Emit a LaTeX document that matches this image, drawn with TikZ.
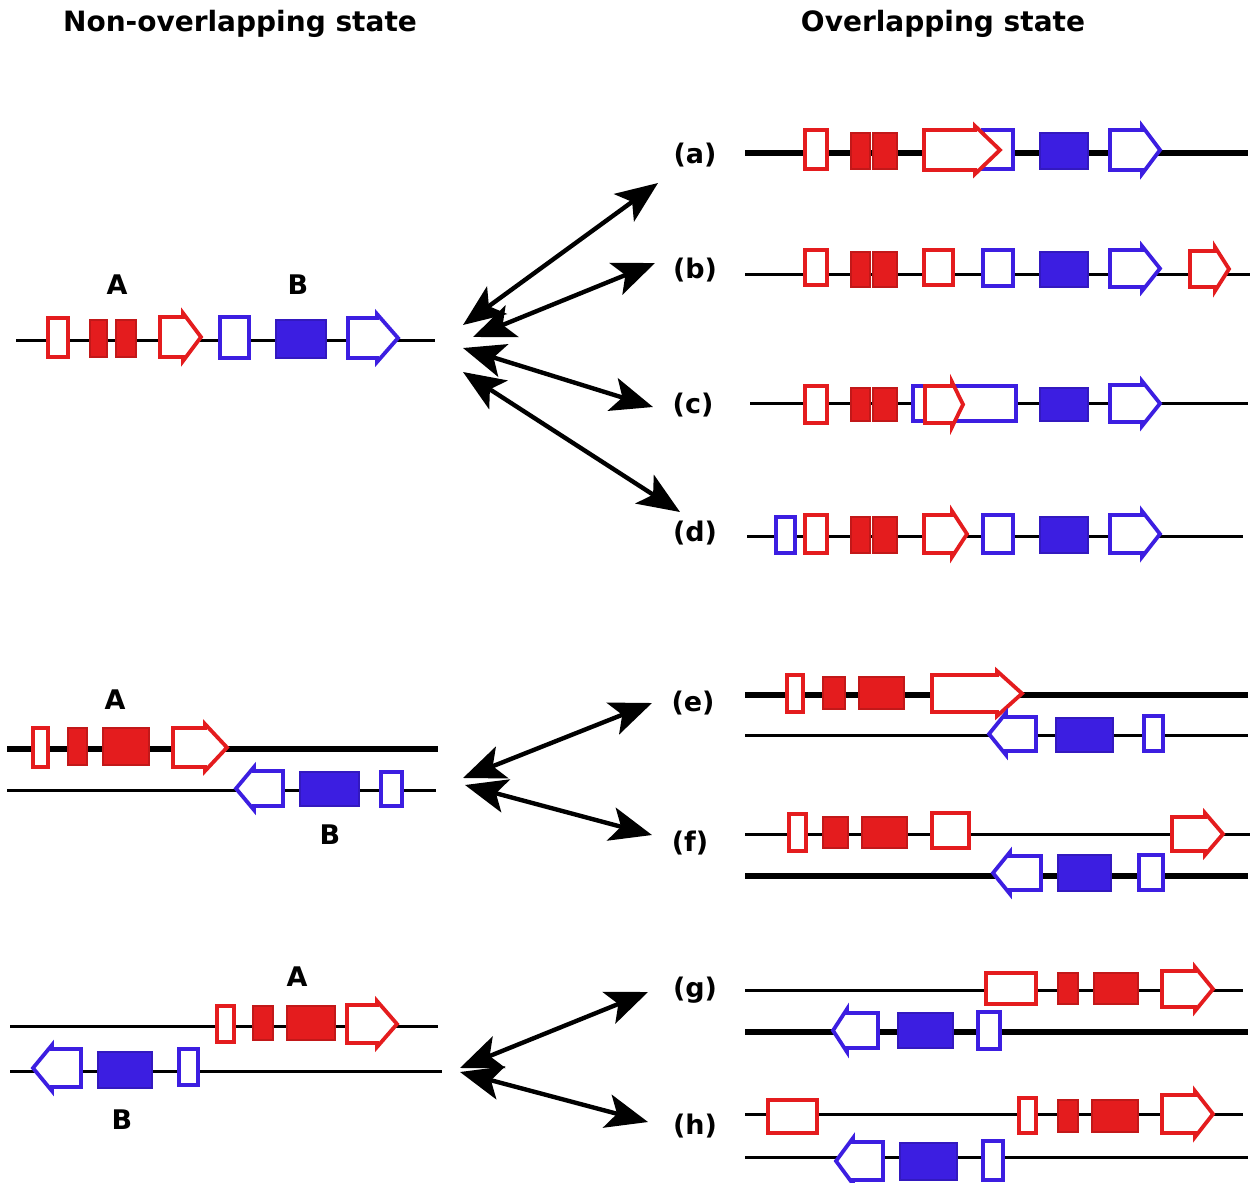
\documentclass[tikz,border=0pt]{standalone}
\usepackage{fontspec}
\setmainfont{DejaVu Sans}
\usetikzlibrary{arrows.meta}
\definecolor{gred}{RGB}{228,28,30}
\definecolor{gblue}{RGB}{60,30,225}
\newcommand\obx[5]{\filldraw[fill=white,draw=#1,line width=1.9pt] ({#2},{#4}) rectangle ({#3},{#5});}
\newcommand\fbx[5]{\filldraw[fill=#1,draw=#1!85!black,line width=0.6pt] ({#2},{#4}) rectangle ({#3},{#5});}
\newcommand\arR[6]{\filldraw[fill=white,draw=#1,line width=1.9pt,line join=miter] ({#2},{#5}) -- ({#3},{#5}) -- ({#3},{#5-4}) -- ({#4},{(#5+#6)/2}) -- ({#3},{#6+4}) -- ({#3},{#6}) -- ({#2},{#6}) -- cycle;}
\newcommand\arL[6]{\filldraw[fill=white,draw=#1,line width=1.9pt,line join=miter] ({#4},{#5}) -- ({#3},{#5}) -- ({#3},{#5-4}) -- ({#2},{(#5+#6)/2}) -- ({#3},{#6+4}) -- ({#3},{#6}) -- ({#4},{#6}) -- cycle;}
\begin{document}
\begin{tikzpicture}[x=0.5pt,y=-0.5pt,
  thinline/.style={line width=1.5pt,black},
  thickline/.style={line width=3pt,black},
  dbl/.style={line width=2.2pt,{Stealth[length=21pt,width=17pt,inset=5pt]}-{Stealth[length=21pt,width=17pt,inset=5pt]}},
  title/.style={font=\bfseries\fontsize{14}{16}\selectfont},
  lab/.style={font=\bfseries\fontsize{13.5}{15}\selectfont}]
\useasboundingbox (0,0) rectangle (1253,1183);
% titles
\node[title] (t1) at (240,24) {Non-overlapping state};
\node[title] (t2) at (943,24) {Overlapping state};
% ---------- top left
\draw[thinline] (16,340) -- (435,340);
\obx{gred}{48}{68}{318}{357}
\fbx{gred}{90}{107}{320}{357}
\fbx{gred}{116}{136}{320}{357}
\arR{gred}{160}{183}{201}{317}{357}
\obx{gblue}{220}{249}{317}{358}
\fbx{gblue}{276}{326}{320}{358}
\arR{gblue}{348}{377}{398}{318}{358}
\node[lab] (A1) at (117,285) {A};
\node[lab] (B1) at (298,285) {B};
% row a
\draw[thickline] (745,153) -- (1248,153);
\obx{gred}{805}{827}{130}{169}
\fbx{gred}{851}{870}{133}{169}
\fbx{gred}{873}{897}{133}{169}
\obx{gblue}{983}{1013}{130}{169}
\arR{gred}{924}{975}{1000}{130}{170}
\fbx{gblue}{1040}{1088}{133}{169}
\arR{gblue}{1110}{1142}{1160}{130}{170}
% row b
\draw[thinline] (745,274) -- (1250,274);
\obx{gred}{805}{827}{250}{285}
\fbx{gred}{851}{870}{252}{287}
\fbx{gred}{873}{897}{252}{287}
\obx{gred}{924}{953}{250}{285}
\obx{gblue}{983}{1013}{250}{286}
\fbx{gblue}{1040}{1088}{252}{287}
\arR{gblue}{1110}{1142}{1160}{250}{287}
\arR{gred}{1190}{1215}{1229}{251}{287}
% row c
\draw[thinline] (750,403) -- (1248,403);
\obx{gred}{805}{827}{386}{423}
\fbx{gred}{851}{870}{388}{421}
\fbx{gred}{873}{897}{388}{421}
\obx{gblue}{913}{1016}{386}{421}
\arR{gred}{925}{952}{963}{386}{423}
\fbx{gblue}{1040}{1088}{388}{421}
\arR{gblue}{1110}{1142}{1160}{385}{422}
% row d
\draw[thinline] (747,536) -- (1243,536);
\obx{gblue}{776}{795}{517}{553}
\obx{gred}{805}{827}{515}{553}
\fbx{gred}{851}{870}{517}{553}
\fbx{gred}{873}{897}{517}{553}
\arR{gred}{924}{952}{967}{515}{553}
\obx{gblue}{983}{1013}{515}{553}
\fbx{gblue}{1040}{1088}{517}{553}
\arR{gblue}{1110}{1142}{1160}{515}{553}
% labels a-d
\node[lab] (la) at (695,155) {(a)};
\node[lab] (lb) at (695,270) {(b)};
\node[lab] (lc) at (693,405) {(c)};
\node[lab] (ld) at (695,533) {(d)};
% arrows top
\coordinate (h1) at (463,325); \coordinate (ea) at (658,183);
\coordinate (h2) at (473,337); \coordinate (eb) at (655,263);
\coordinate (h3) at (463,348); \coordinate (ec) at (653,407);
\coordinate (h4) at (463,372); \coordinate (ed) at (680,512);
\draw[dbl] (h1) -- (ea);
\draw[dbl] (h2) -- (eb);
\draw[dbl] (h3) -- (ec);
\draw[dbl] (h4) -- (ed);
% ---------- middle left
\draw[thickline] (7,749) -- (438,749);
\obx{gred}{33}{48}{728}{767}
\fbx{gred}{68}{87}{728}{765}
\fbx{gred}{103}{149}{728}{765}
\arR{gred}{173}{205}{227}{728}{767}
\node[lab] (A2) at (115,700) {A};
\draw[thinline] (7,790) -- (436,790);
\arL{gblue}{236}{254}{283}{771}{806}
\fbx{gblue}{300}{359}{772}{806}
\obx{gblue}{381}{402}{772}{806}
\node[lab] (B2) at (330,835) {B};
% row e
\draw[thickline] (745,695) -- (1248,695);
\obx{gred}{787}{803}{675}{712}
\fbx{gred}{823}{845}{677}{709}
\fbx{gred}{859}{904}{677}{709}
\arR{gred}{932}{997}{1022}{675}{712}
\draw[thinline] (745,735) -- (1248,735);
\arL{gblue}{989}{1006}{1036}{717}{751}
\fbx{gblue}{1056}{1113}{718}{752}
\obx{gblue}{1144}{1163}{716}{751}
% row f
\draw[thinline] (745,834) -- (1250,834);
\obx{gred}{789}{806}{814}{851}
\fbx{gred}{823}{848}{817}{848}
\fbx{gred}{862}{907}{817}{848}
\obx{gred}{932}{969}{813}{848}
\arR{gred}{1172}{1205}{1223}{817}{851}
\draw[thickline] (745,876) -- (1248,876);
\arL{gblue}{993}{1010}{1041}{856}{890}
\fbx{gblue}{1058}{1111}{855}{891}
\obx{gblue}{1139}{1163}{855}{890}
\node[lab] (le) at (693,703) {(e)};
\node[lab] (lf) at (690,843) {(f)};
\coordinate (h5) at (463,778); \coordinate (ee) at (652,703);
\coordinate (h6) at (465,785); \coordinate (ef) at (652,835);
\draw[dbl] (h5) -- (ee);
\draw[dbl] (h6) -- (ef);
% ---------- bottom left
\draw[thinline] (10,1026) -- (438,1026);
\obx{gred}{217}{234}{1006}{1042}
\fbx{gred}{253}{273}{1006}{1040}
\fbx{gred}{287}{335}{1006}{1040}
\arR{gred}{347}{377}{397}{1005}{1043}
\node[lab] (A3) at (297,977) {A};
\draw[thinline] (10,1071) -- (442,1071);
\arL{gblue}{33}{52}{81}{1049}{1087}
\fbx{gblue}{98}{152}{1052}{1088}
\obx{gblue}{179}{198}{1049}{1085}
\node[lab] (B3) at (122,1120) {B};
% row g
\draw[thinline] (745,990) -- (1243,990);
\obx{gred}{986}{1036}{973}{1004}
\fbx{gred}{1058}{1078}{973}{1004}
\fbx{gred}{1094}{1138}{973}{1004}
\arR{gred}{1162}{1195}{1213}{971}{1007}
\draw[thickline] (745,1032) -- (1248,1032);
\arL{gblue}{833}{847}{878}{1013}{1048}
\fbx{gblue}{898}{953}{1013}{1048}
\obx{gblue}{978}{1000}{1012}{1049}
% row h
\draw[thinline] (745,1114) -- (1243,1114);
\obx{gred}{768}{817}{1100}{1133}
\obx{gred}{1019}{1036}{1098}{1133}
\fbx{gred}{1058}{1078}{1100}{1132}
\fbx{gred}{1092}{1138}{1100}{1132}
\arR{gred}{1162}{1195}{1213}{1095}{1133}
\draw[thinline] (745,1157) -- (1248,1157);
\arL{gblue}{836}{853}{883}{1142}{1180}
\fbx{gblue}{900}{957}{1143}{1180}
\obx{gblue}{983}{1003}{1141}{1180}
\node[lab] (lg) at (695,990) {(g)};
\node[lab] (lh) at (695,1126) {(h)};
\coordinate (h7) at (460,1068); \coordinate (eg) at (648,992);
\coordinate (h8) at (460,1072); \coordinate (eh) at (648,1122);
\draw[dbl] (h7) -- (eg);
\draw[dbl] (h8) -- (eh);
\end{tikzpicture}
\end{document}
